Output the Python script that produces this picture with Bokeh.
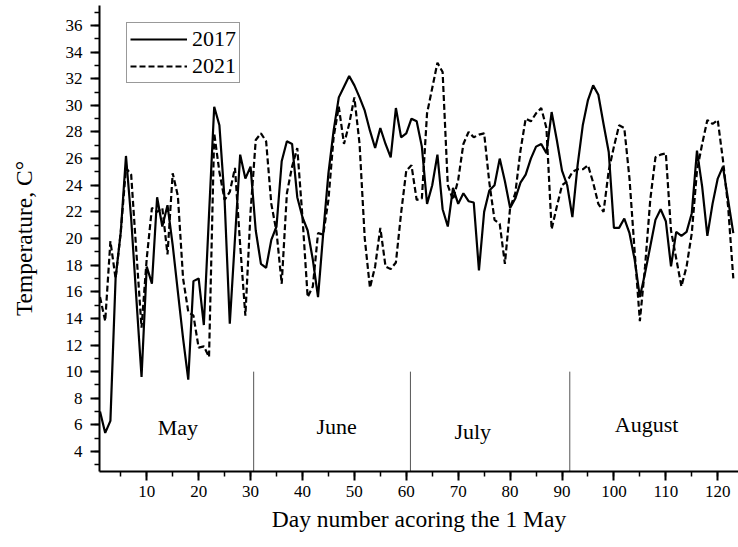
from bokeh.plotting import figure
from bokeh.models import Range1d, SingleIntervalTicker, Legend, LegendItem, ColumnDataSource
from bokeh.core.properties import value
from bokeh.embed import file_html
from bokeh.resources import INLINE

days = list(range(1, 124))

t2017 = [7.0, 5.4, 6.3, 17.0, 20.5, 26.2, 21.5, 15.5, 9.6, 17.9,
         16.6, 23.1, 20.9, 22.5, 19.5, 16.0, 12.5, 9.4, 16.8, 17.0,
         13.5, 21.8, 29.9, 28.5, 22.9, 13.6, 20.0, 26.3, 24.5, 25.4,
         20.6, 18.1, 17.8, 19.9, 20.9, 25.8, 27.3, 27.1, 23.1, 21.6,
         20.6, 18.4, 15.6, 20.4, 24.9, 28.1, 30.6, 31.4, 32.2, 31.5,
         30.6, 29.6, 28.1, 26.8, 28.3, 27.1, 26.1, 29.8, 27.6, 27.9,
         29.0, 28.8, 26.9, 22.6, 24.0, 26.3, 22.2, 20.9, 23.8, 22.6,
         23.4, 22.8, 22.7, 17.6, 22.0, 23.6, 24.0, 26.0, 24.3, 22.3,
         23.0, 24.2, 24.8, 26.0, 26.9, 27.1, 26.4, 29.5, 27.4, 25.1,
         24.0, 21.6, 25.5, 28.5, 30.4, 31.5, 30.8, 28.6, 26.5, 20.8,
         20.8, 21.5, 20.4, 18.4, 15.6, 17.4, 19.4, 21.4, 22.2, 21.3,
         17.9, 20.5, 20.2, 20.5, 21.9, 26.6, 23.9, 20.2, 22.6, 24.5,
         25.4, 22.9, 20.4]

t2021 = [15.6, 13.8, 19.8, 17.0, 20.5, 25.3, 24.8, 19.0, 13.3, 18.5,
         22.3, 22.0, 22.3, 18.8, 24.9, 23.2, 17.0, 14.5, 14.2, 11.8,
         11.9, 11.1, 27.9, 25.0, 22.9, 23.5, 25.3, 19.5, 14.2, 22.0,
         27.4, 27.9, 27.3, 22.6, 20.5, 16.6, 23.4, 25.4, 26.8, 21.6,
         15.6, 16.4, 20.4, 20.3, 22.9, 27.6, 29.9, 27.1, 28.6, 30.6,
         27.1, 20.0, 16.3, 17.9, 20.8, 17.9, 17.7, 18.2, 21.9, 25.1,
         25.5, 22.9, 23.0, 29.4, 31.3, 33.2, 32.5, 24.0, 22.9, 24.4,
         27.1, 28.0, 27.6, 27.8, 27.9, 24.2, 21.4, 21.1, 18.1, 22.3,
         23.4, 26.6, 29.0, 28.8, 29.4, 29.8, 28.3, 20.7, 22.4, 24.0,
         24.3, 25.0, 25.2, 25.2, 25.5, 24.2, 22.6, 22.0, 25.1, 26.9,
         28.5, 28.3, 24.5, 19.0, 13.8, 17.9, 22.9, 26.1, 26.3, 26.4,
         20.6, 18.5, 16.4, 17.9, 20.4, 25.1, 27.1, 28.9, 28.6, 28.9,
         25.9, 22.4, 17.0]

month_names = ["May", "June", "July", "August"]
month_label_x = [16.0, 46.6, 72.8, 106.3]
month_label_y = [5.8, 5.9, 5.5, 6.0]
divider_x = [30.6, 60.8, 91.5]
divider_top = 10.0

FONT = "Liberation Serif"

p = figure(width=738, height=547, output_backend="svg", toolbar_location=None,
           x_range=Range1d(0.9, 124), y_range=Range1d(2.5, 37.5),
           min_border_left=99, min_border_right=0, min_border_top=5, min_border_bottom=76)
p.outline_line_color = None
p.grid.visible = False
p.background_fill_color = "white"
p.border_fill_color = "white"

src = ColumnDataSource(dict(day=days, a=t2017, b=t2021))
r1 = p.line("day", "a", source=src, line_color="black", line_width=2.2)
r2 = p.line("day", "b", source=src, line_color="black", line_width=2.2, line_dash="6 3")

p.segment(x0=divider_x, y0=[2.5] * len(divider_x), x1=divider_x, y1=[divider_top] * len(divider_x),
          line_color="#555555", line_width=1)
p.text(x=month_label_x, y=month_label_y, text=month_names, text_font=value(FONT),
       text_font_size="22px", text_align="center", text_baseline="middle", text_color="black")

p.xaxis.ticker = SingleIntervalTicker(interval=10, num_minor_ticks=2)
p.yaxis.ticker = SingleIntervalTicker(interval=2, num_minor_ticks=2)
for ax in (p.xaxis, p.yaxis):
    ax.axis_line_width = 2
    ax.axis_line_color = "black"
    ax.major_tick_line_color = "black"
    ax.minor_tick_line_color = "black"
    ax.major_tick_line_width = 2
    ax.minor_tick_line_width = 1.5
    ax.major_tick_in = 0
    ax.major_tick_out = 9
    ax.minor_tick_in = 0
    ax.minor_tick_out = 5
    ax.major_label_text_font = FONT
    ax.major_label_text_font_size = "17px"
    ax.major_label_text_color = "black"
    ax.axis_label_text_font = FONT
    ax.axis_label_text_font_size = "23.5px"
    ax.axis_label_text_font_style = "normal"
    ax.axis_label_text_color = "black"

p.xaxis.axis_label = "Day number acoring the 1 May"
p.yaxis.axis_label = "Temperature, C°"
p.xaxis.major_label_standoff = 5
p.xaxis.axis_label_standoff = 6
p.yaxis.major_label_standoff = 8
p.yaxis.axis_label_standoff = 26

legend = Legend(items=[LegendItem(label="2017", renderers=[r1]),
                       LegendItem(label="2021", renderers=[r2])],
                location=(27, 388))
legend.label_text_font = FONT
legend.label_text_font_size = "22px"
legend.label_text_color = "black"
legend.glyph_width = 57
legend.glyph_height = 26
legend.label_height = 26
legend.label_standoff = 5
legend.spacing = 1
legend.padding = 3
legend.margin = 0
legend.border_line_color = "#333333"
legend.border_line_width = 1
legend.background_fill_alpha = 1
p.add_layout(legend)

open("out.html", "w").write(file_html(p, INLINE))
